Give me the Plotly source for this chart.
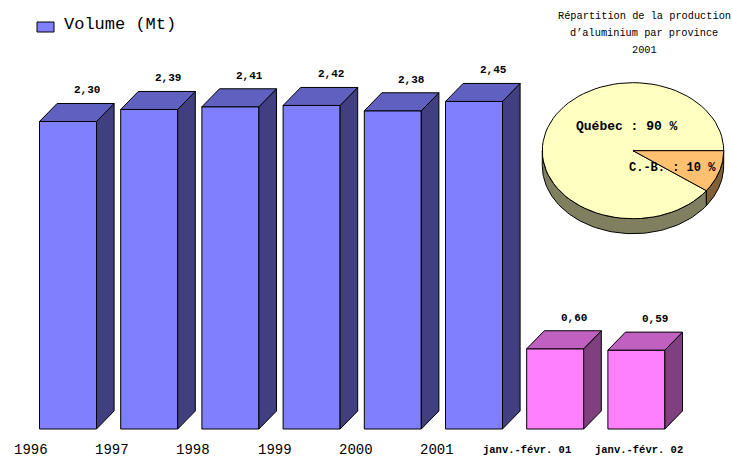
import numpy as np
import plotly.graph_objects as go

# ---- data -------------------------------------------------------------
categories = ["1996", "1997", "1998", "1999", "2000", "2001",
              "janv.-févr. 01", "janv.-févr. 02"]
volumes = [2.30, 2.39, 2.41, 2.42, 2.38, 2.45, 0.60, 0.59]

provinces = ["Québec", "C.-B."]
shares = [90, 10]

# ---- styling ----------------------------------------------------------
MONO = "Liberation Mono"
W, H = 732, 460

# main axis mapping (pixel-calibrated ranges)
PX_PER_CAT = 81.2
PX_PER_UNIT = 133.7
X0_PX, Y0_PX = 68.0, 429.0
x_range = [-X0_PX / PX_PER_CAT, (W - X0_PX) / PX_PER_CAT]
y_range = [-(H - Y0_PX) / PX_PER_UNIT, Y0_PX / PX_PER_UNIT]

half_w = 0.351                      # half bar width (category units)
dx = 17.6 / PX_PER_CAT              # 3D depth, horizontal
dy = 18.0 / PX_PER_UNIT             # 3D depth, vertical

palette = {
    "year": dict(front="#8080ff", top="#6060c0", side="#404080"),
    "part": dict(front="#ff80ff", top="#c060c0", side="#804080"),
}

def style_of(cat):
    return palette["part"] if cat.startswith("janv") else palette["year"]

fig = go.Figure()

idx = list(range(len(categories)))

# front faces
fig.add_trace(go.Bar(
    x=idx, y=volumes, width=2 * half_w,
    marker=dict(color=[style_of(c)["front"] for c in categories],
                line=dict(color="black", width=1)),
    hoverinfo="skip", showlegend=False,
))

# top and side faces of each bar
for i, (cat, v) in enumerate(zip(categories, volumes)):
    st = style_of(cat)
    top_x = [i - half_w, i + half_w, i + half_w + dx, i - half_w + dx, i - half_w]
    top_y = [v, v, v + dy, v + dy, v]
    side_x = [i + half_w, i + half_w + dx, i + half_w + dx, i + half_w, i + half_w]
    side_y = [0, dy, v + dy, v, 0]
    for xs, ys, col in ((side_x, side_y, st["side"]), (top_x, top_y, st["top"])):
        fig.add_trace(go.Scatter(
            x=xs, y=ys, mode="lines", fill="toself", fillcolor=col,
            line=dict(color="black", width=1),
            hoverinfo="skip", showlegend=False,
        ))

# value labels above the bars
for i, v in enumerate(volumes):
    fig.add_annotation(
        x=i, y=v, xref="x", yref="y", text=f"{v:.2f}".replace(".", ","),
        showarrow=False, xshift=19, yshift=31,
        font=dict(family=MONO, size=11, color="black", weight="bold"),
    )

# category labels under the bars
label_shift = [-37, -37, -37, -37, -37, -37, -28, 3]
for i, cat in enumerate(categories):
    bold = cat.startswith("janv")
    fig.add_annotation(
        x=i, y=0, xref="x", yref="y", text=cat, showarrow=False,
        xshift=label_shift[i], yshift=-21, borderpad=0,
        font=dict(family=MONO, size=10.5 if bold else 14, color="black",
                  weight="bold" if bold else "normal"),
    )

# ---- 3D pie (own overlay axes, 1 unit = 90.7 px) ----------------------
PIE_PX = 90.7
PIE_CX, PIE_CY = 633.0, 150.7
x2_range = [-PIE_CX / PIE_PX, (W - PIE_CX) / PIE_PX]
y2_range = [-(H - PIE_CY) / PIE_PX, PIE_CY / PIE_PX]
RX, RY, DEPTH = 1.0, 0.75, 0.165

pie_top = {"Québec": "#ffffc0", "C.-B.": "#ffc070"}
pie_side = {"Québec": "#808060", "C.-B.": "#806038"}

def arc(a0, a1, n=80):
    t = np.radians(np.linspace(a0, a1, n))
    return RX * np.cos(t), RY * np.sin(t)

# slices run clockwise, starting 36° below the 3 o'clock direction
start = -36.0
slices = []
a = start
for name, s in zip(provinces, shares):
    span = 360.0 * s / sum(shares)
    slices.append((name, a, a - span))
    a -= span

# side walls (only the front half of the rim is visible)
for name, a_start, a_end in slices:
    for k in (0, -1):
        lo, hi = -180.0 + 360 * k, 0.0 + 360 * k
        s0, s1 = min(a_start, hi), max(a_end, lo)
        if s0 <= s1:
            continue
        ax, ay = arc(s0, s1)
        xs = np.concatenate([ax, ax[::-1], ax[:1]])
        ys = np.concatenate([ay, ay[::-1] - DEPTH, ay[:1]])
        fig.add_trace(go.Scatter(
            x=xs, y=ys, xaxis="x2", yaxis="y2", mode="lines",
            fill="toself", fillcolor=pie_side[name],
            line=dict(color="black", width=1),
            hoverinfo="skip", showlegend=False,
        ))

# top faces
for name, a_start, a_end in slices:
    ax, ay = arc(a_start, a_end)
    xs = np.concatenate([[0.0], ax, [0.0]])
    ys = np.concatenate([[0.0], ay, [0.0]])
    fig.add_trace(go.Scatter(
        x=xs, y=ys, xaxis="x2", yaxis="y2", mode="lines",
        fill="toself", fillcolor=pie_top[name],
        line=dict(color="black", width=1),
        hoverinfo="skip", showlegend=False,
    ))

pie_label_pos = {"Québec": (-0.066, 0.272), "C.-B.": (0.44, -0.191)}
for name, s in zip(provinces, shares):
    px, py = pie_label_pos[name]
    fig.add_annotation(
        x=px, y=py, xref="x2", yref="y2", text=f"{name} : {s} %",
        showarrow=False,
        font=dict(family=MONO, size=13 if name == "Québec" else 12,
                  color="black", weight="bold"),
    )

# pie title
for line, ypx in (("Répartition de la production", 16),
                  ("d’aluminium par province", 33),
                  ("2001", 50)):
    fig.add_annotation(
        x=644 / W, y=1 - ypx / H, xref="paper", yref="paper", text=line,
        showarrow=False, xanchor="center", yanchor="middle",
        font=dict(family=MONO, size=10.3, color="black"),
    )

# legend key
fig.add_shape(type="rect", xref="paper", yref="paper",
              x0=37 / W, x1=54 / W, y0=1 - 32 / H, y1=1 - 22 / H,
              fillcolor="#8080ff", line=dict(color="black", width=1))
fig.add_annotation(
    x=62 / W, y=1 - 24 / H, xref="paper", yref="paper", text="Volume (Mt)",
    showarrow=False, xanchor="left", yanchor="middle",
    font=dict(family=MONO, size=17, color="black"),
)

fig.update_layout(
    width=W, height=H,
    margin=dict(l=0, r=0, t=0, b=0),
    paper_bgcolor="white", plot_bgcolor="rgba(0,0,0,0)",
    showlegend=False,
    xaxis=dict(range=x_range, visible=False, fixedrange=True),
    yaxis=dict(range=y_range, visible=False, fixedrange=True),
    xaxis2=dict(range=x2_range, overlaying="x", visible=False, fixedrange=True),
    yaxis2=dict(range=y2_range, overlaying="y", visible=False, fixedrange=True),
)

fig.write_html("out.html")
